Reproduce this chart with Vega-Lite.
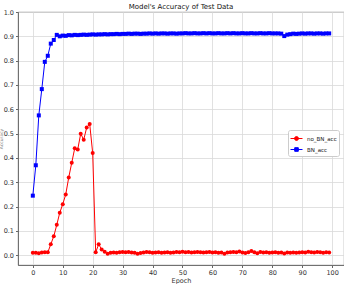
{
  "$schema": "https://vega.github.io/schema/vega-lite/v6.json",
  "width": 326,
  "height": 253,
  "autosize": "none",
  "padding": {"left": 18, "top": 12, "right": 0, "bottom": 19},
  "background": "white",
  "config": {
    "font": "DejaVu Sans",
    "view": {"stroke": "#666", "strokeWidth": 0.8},
    "axis": {
      "labelFont": "DejaVu Sans", "labelFontSize": 6.5, "labelColor": "#333",
      "titleFont": "DejaVu Sans", "titleFontSize": 6.5, "titleFontWeight": "normal", "titleColor": "#333",
      "gridColor": "#d9d9d9", "gridWidth": 0.8, "domainColor": "#666", "domainWidth": 0.8,
      "tickColor": "#666", "tickSize": 2.5, "labelPadding": 2
    }
  },
  "title": {"text": "Model's Accuracy of Test Data", "fontSize": 7, "fontWeight": "normal", "font": "DejaVu Sans", "color": "#111", "anchor": "middle", "offset": 3, "dy": 4},
  "data": {"values": [
    {"epoch":0,"no_BN_acc":0.010,"BN_acc":0.245},
    {"epoch":1,"no_BN_acc":0.010,"BN_acc":0.370},
    {"epoch":2,"no_BN_acc":0.008,"BN_acc":0.575},
    {"epoch":3,"no_BN_acc":0.011,"BN_acc":0.683},
    {"epoch":4,"no_BN_acc":0.012,"BN_acc":0.795},
    {"epoch":5,"no_BN_acc":0.012,"BN_acc":0.820},
    {"epoch":6,"no_BN_acc":0.045,"BN_acc":0.870},
    {"epoch":7,"no_BN_acc":0.078,"BN_acc":0.885},
    {"epoch":8,"no_BN_acc":0.125,"BN_acc":0.906},
    {"epoch":9,"no_BN_acc":0.175,"BN_acc":0.900},
    {"epoch":10,"no_BN_acc":0.210,"BN_acc":0.903},
    {"epoch":11,"no_BN_acc":0.250,"BN_acc":0.902},
    {"epoch":12,"no_BN_acc":0.320,"BN_acc":0.905},
    {"epoch":13,"no_BN_acc":0.380,"BN_acc":0.904},
    {"epoch":14,"no_BN_acc":0.440,"BN_acc":0.906},
    {"epoch":15,"no_BN_acc":0.435,"BN_acc":0.905},
    {"epoch":16,"no_BN_acc":0.500,"BN_acc":0.906},
    {"epoch":17,"no_BN_acc":0.475,"BN_acc":0.907},
    {"epoch":18,"no_BN_acc":0.525,"BN_acc":0.906},
    {"epoch":19,"no_BN_acc":0.540,"BN_acc":0.907},
    {"epoch":20,"no_BN_acc":0.420,"BN_acc":0.908},
    {"epoch":21,"no_BN_acc":0.012,"BN_acc":0.907},
    {"epoch":22,"no_BN_acc":0.045,"BN_acc":0.908},
    {"epoch":23,"no_BN_acc":0.024,"BN_acc":0.908},
    {"epoch":24,"no_BN_acc":0.014,"BN_acc":0.909},
    {"epoch":25,"no_BN_acc":0.006,"BN_acc":0.908},
    {"epoch":26,"no_BN_acc":0.010,"BN_acc":0.909},
    {"epoch":27,"no_BN_acc":0.011,"BN_acc":0.909},
    {"epoch":28,"no_BN_acc":0.010,"BN_acc":0.910},
    {"epoch":29,"no_BN_acc":0.012,"BN_acc":0.909},
    {"epoch":30,"no_BN_acc":0.013,"BN_acc":0.910},
    {"epoch":31,"no_BN_acc":0.012,"BN_acc":0.910},
    {"epoch":32,"no_BN_acc":0.013,"BN_acc":0.911},
    {"epoch":33,"no_BN_acc":0.011,"BN_acc":0.910},
    {"epoch":34,"no_BN_acc":0.010,"BN_acc":0.911},
    {"epoch":35,"no_BN_acc":0.006,"BN_acc":0.911},
    {"epoch":36,"no_BN_acc":0.009,"BN_acc":0.910},
    {"epoch":37,"no_BN_acc":0.011,"BN_acc":0.911},
    {"epoch":38,"no_BN_acc":0.013,"BN_acc":0.911},
    {"epoch":39,"no_BN_acc":0.012,"BN_acc":0.912},
    {"epoch":40,"no_BN_acc":0.010,"BN_acc":0.911},
    {"epoch":41,"no_BN_acc":0.011,"BN_acc":0.912},
    {"epoch":42,"no_BN_acc":0.012,"BN_acc":0.911},
    {"epoch":43,"no_BN_acc":0.010,"BN_acc":0.912},
    {"epoch":44,"no_BN_acc":0.011,"BN_acc":0.912},
    {"epoch":45,"no_BN_acc":0.012,"BN_acc":0.911},
    {"epoch":46,"no_BN_acc":0.010,"BN_acc":0.912},
    {"epoch":47,"no_BN_acc":0.011,"BN_acc":0.912},
    {"epoch":48,"no_BN_acc":0.013,"BN_acc":0.911},
    {"epoch":49,"no_BN_acc":0.012,"BN_acc":0.912},
    {"epoch":50,"no_BN_acc":0.014,"BN_acc":0.912},
    {"epoch":51,"no_BN_acc":0.012,"BN_acc":0.913},
    {"epoch":52,"no_BN_acc":0.013,"BN_acc":0.912},
    {"epoch":53,"no_BN_acc":0.011,"BN_acc":0.912},
    {"epoch":54,"no_BN_acc":0.012,"BN_acc":0.913},
    {"epoch":55,"no_BN_acc":0.013,"BN_acc":0.912},
    {"epoch":56,"no_BN_acc":0.012,"BN_acc":0.912},
    {"epoch":57,"no_BN_acc":0.011,"BN_acc":0.913},
    {"epoch":58,"no_BN_acc":0.012,"BN_acc":0.912},
    {"epoch":59,"no_BN_acc":0.013,"BN_acc":0.913},
    {"epoch":60,"no_BN_acc":0.011,"BN_acc":0.912},
    {"epoch":61,"no_BN_acc":0.012,"BN_acc":0.912},
    {"epoch":62,"no_BN_acc":0.010,"BN_acc":0.913},
    {"epoch":63,"no_BN_acc":0.011,"BN_acc":0.912},
    {"epoch":64,"no_BN_acc":0.006,"BN_acc":0.912},
    {"epoch":65,"no_BN_acc":0.011,"BN_acc":0.913},
    {"epoch":66,"no_BN_acc":0.012,"BN_acc":0.912},
    {"epoch":67,"no_BN_acc":0.013,"BN_acc":0.913},
    {"epoch":68,"no_BN_acc":0.012,"BN_acc":0.912},
    {"epoch":69,"no_BN_acc":0.016,"BN_acc":0.912},
    {"epoch":70,"no_BN_acc":0.011,"BN_acc":0.913},
    {"epoch":71,"no_BN_acc":0.009,"BN_acc":0.912},
    {"epoch":72,"no_BN_acc":0.012,"BN_acc":0.912},
    {"epoch":73,"no_BN_acc":0.018,"BN_acc":0.913},
    {"epoch":74,"no_BN_acc":0.012,"BN_acc":0.912},
    {"epoch":75,"no_BN_acc":0.008,"BN_acc":0.912},
    {"epoch":76,"no_BN_acc":0.013,"BN_acc":0.913},
    {"epoch":77,"no_BN_acc":0.011,"BN_acc":0.912},
    {"epoch":78,"no_BN_acc":0.012,"BN_acc":0.912},
    {"epoch":79,"no_BN_acc":0.010,"BN_acc":0.913},
    {"epoch":80,"no_BN_acc":0.011,"BN_acc":0.912},
    {"epoch":81,"no_BN_acc":0.012,"BN_acc":0.912},
    {"epoch":82,"no_BN_acc":0.010,"BN_acc":0.912},
    {"epoch":83,"no_BN_acc":0.011,"BN_acc":0.911},
    {"epoch":84,"no_BN_acc":0.007,"BN_acc":0.901},
    {"epoch":85,"no_BN_acc":0.011,"BN_acc":0.907},
    {"epoch":86,"no_BN_acc":0.010,"BN_acc":0.909},
    {"epoch":87,"no_BN_acc":0.011,"BN_acc":0.911},
    {"epoch":88,"no_BN_acc":0.010,"BN_acc":0.910},
    {"epoch":89,"no_BN_acc":0.011,"BN_acc":0.911},
    {"epoch":90,"no_BN_acc":0.012,"BN_acc":0.912},
    {"epoch":91,"no_BN_acc":0.011,"BN_acc":0.911},
    {"epoch":92,"no_BN_acc":0.014,"BN_acc":0.912},
    {"epoch":93,"no_BN_acc":0.012,"BN_acc":0.912},
    {"epoch":94,"no_BN_acc":0.011,"BN_acc":0.911},
    {"epoch":95,"no_BN_acc":0.013,"BN_acc":0.912},
    {"epoch":96,"no_BN_acc":0.012,"BN_acc":0.912},
    {"epoch":97,"no_BN_acc":0.010,"BN_acc":0.911},
    {"epoch":98,"no_BN_acc":0.012,"BN_acc":0.912},
    {"epoch":99,"no_BN_acc":0.011,"BN_acc":0.912}
  ]},
  "transform": [{"fold": ["no_BN_acc", "BN_acc"], "as": ["series", "acc"]}],
  "encoding": {
    "x": {"field": "epoch", "type": "quantitative",
      "scale": {"domain": [-4.95, 103.95], "nice": false, "zero": false},
      "axis": {"values": [0,10,20,30,40,50,60,70,80,90,100], "title": "Epoch", "titlePadding": 1}},
    "y": {"field": "acc", "type": "quantitative",
      "scale": {"domain": [-0.04, 1.0], "nice": false, "zero": false},
      "axis": {"values": [0,0.1,0.2,0.3,0.4,0.5,0.6,0.7,0.8,0.9,1.0], "format": ".1f", "title": "Accuracy", "titlePadding": 0, "titleFontSize": 4.5, "titleColor": "#888"}},
    "color": {"field": "series", "type": "nominal",
      "scale": {"domain": ["no_BN_acc", "BN_acc"], "range": ["#ff0000", "#0000ff"]},
      "legend": {"title": null, "orient": "none", "legendX": 270, "legendY": 118,
        "labelFontSize": 5.5, "labelColor": "#222", "labelFont": "DejaVu Sans",
        "symbolSize": 144, "symbolStrokeWidth": 1, "rowPadding": 0, "labelOffset": 4,
        "padding": 2, "strokeColor": "#ccc", "fillColor": "white", "cornerRadius": 2,
        "encode": {"symbols": {"update": {
          "shape": {"signal": "datum.value == 'no_BN_acc' ? 'M-1,0L1,0M0.33,0A0.33,0.33 0 1 1 -0.33,0A0.33,0.33 0 1 1 0.33,0Z' : 'M-1,0L1,0M-0.3,-0.3L0.3,-0.3L0.3,0.3L-0.3,0.3Z'"},
          "stroke": {"signal": "datum.value == 'no_BN_acc' ? '#ff0000' : '#0000ff'"},
          "fill": {"signal": "datum.value == 'no_BN_acc' ? '#ff0000' : '#0000ff'"},
          "strokeWidth": {"value": 1}
        }}}}
    }
  },
  "layer": [
    {"mark": {"type": "line", "strokeWidth": 1}},
    {"transform": [{"filter": "datum.series == 'no_BN_acc'"}],
      "mark": {"type": "point", "filled": true, "size": 16, "opacity": 1, "shape": "circle"}},
    {"transform": [{"filter": "datum.series == 'BN_acc'"}],
      "mark": {"type": "point", "filled": true, "size": 16, "opacity": 1, "shape": "square"}}
  ]
}
